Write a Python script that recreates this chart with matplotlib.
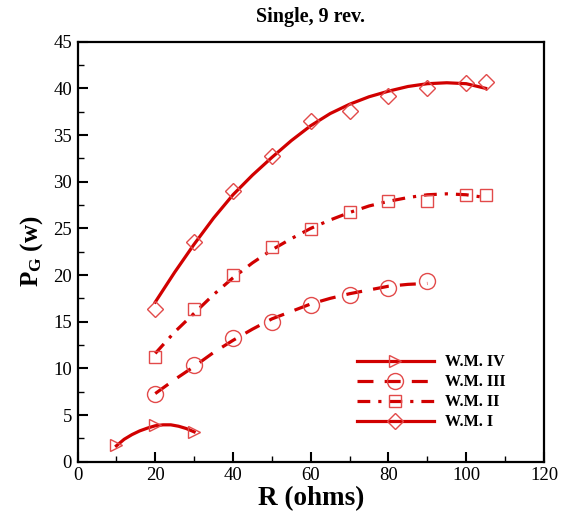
import matplotlib
matplotlib.use('Agg')
import matplotlib.pyplot as plt
from matplotlib.lines import Line2D
from matplotlib.ticker import MultipleLocator

plt.rcParams['font.family'] = 'Liberation Serif'
plt.rcParams['mathtext.fontset'] = 'custom'
plt.rcParams['mathtext.rm'] = 'Liberation Serif'
plt.rcParams['mathtext.bf'] = 'Liberation Serif:bold'

# measured points
r_1 = [20, 30, 40, 50, 60, 70, 80, 90, 100, 105]
pg_1 = [16.4, 23.5, 29.0, 32.8, 36.5, 37.6, 39.2, 40.0, 40.6, 40.7]
r_2 = [20, 30, 40, 50, 60, 70, 80, 90, 100, 105]
pg_2 = [11.2, 16.4, 20.0, 23.0, 24.9, 26.7, 27.9, 27.9, 28.6, 28.6]
r_3 = [20, 30, 40, 50, 60, 70, 80, 90]
pg_3 = [7.2, 10.4, 13.2, 15.0, 16.8, 17.9, 18.6, 19.4]
r_4 = [10, 20, 30]
pg_4 = [1.8, 3.9, 3.2]

# trend curves
fit_r_1 = [20, 25, 30, 35, 40, 45, 50, 55, 60, 65, 70, 75, 80, 85, 90, 95, 100, 105]
fit_pg_1 = [17.1, 20.3, 23.3, 26.1, 28.6, 30.7, 32.6, 34.4, 36.0, 37.3, 38.3, 39.1,
            39.7, 40.2, 40.5, 40.6, 40.5, 40.0]
fit_r_2 = [20, 25, 30, 35, 40, 45, 50, 55, 60, 65, 70, 75, 80, 85, 90, 95, 100, 105]
fit_pg_2 = [11.6, 13.9, 15.9, 17.9, 19.7, 21.3, 22.7, 23.9, 25.0, 25.9, 26.7, 27.4,
            27.9, 28.3, 28.6, 28.7, 28.6, 28.3]
fit_r_3 = [20, 25, 30, 35, 40, 45, 50, 55, 60, 65, 70, 75, 80, 85, 90]
fit_pg_3 = [7.3, 8.8, 10.2, 11.7, 13.0, 14.2, 15.3, 16.1, 16.9, 17.5, 18.0, 18.4,
            18.8, 19.0, 19.1]
fit_r_4 = [10, 12, 14, 16, 18, 20, 22, 24, 26, 28, 30]
fit_pg_4 = [1.7, 2.4, 2.9, 3.3, 3.6, 3.85, 3.95, 3.95, 3.8, 3.55, 3.2]

labels = ['W.M. IV', 'W.M. III', 'W.M. II', 'W.M. I']

line_c = '#d10000'
mark_c = '#e24a4a'
lw = 2.3

fig = plt.figure(figsize=(5.67, 5.18), dpi=100)
ax = fig.add_axes([0.1367, 0.1087, 0.8227, 0.8108])

styles = [
    (fit_r_4, fit_pg_4, r_4, pg_4, '-', '>', 9),
    (fit_r_3, fit_pg_3, r_3, pg_3, (0, (5, 3.5)), 'o', 11.5),
    (fit_r_2, fit_pg_2, r_2, pg_2, (0, (4, 2.5, 1, 2.5)), 's', 8.5),
    (fit_r_1, fit_pg_1, r_1, pg_1, '-', 'D', 7.8),
]

handles = []
for (fx, fy, mx, my, ls, mk, ms), lab in zip(styles, labels):
    ax.plot(fx, fy, color=line_c, lw=lw, ls=ls, zorder=3)
    ax.plot(mx, my, ls='none', marker=mk, ms=ms, mfc='none', mec=mark_c, mew=1.0, zorder=4)
    handles.append(Line2D([], [], color=line_c, lw=lw, ls=ls, marker=mk, ms=ms,
                          mfc='none', mec=mark_c, mew=1.0))

ax.set_xlim(0, 120)
ax.set_ylim(0, 45)
ax.xaxis.set_major_locator(MultipleLocator(20))
ax.xaxis.set_minor_locator(MultipleLocator(10))
ax.yaxis.set_major_locator(MultipleLocator(5))
ax.yaxis.set_minor_locator(MultipleLocator(2.5))
ax.tick_params(which='both', direction='in', top=False, right=False, labelsize=13.5, pad=4)
ax.tick_params(which='major', length=7, width=1.5)
ax.tick_params(which='minor', length=4, width=1)
for s in ax.spines.values():
    s.set_linewidth(1.6)

ax.set_xlabel('R (ohms)', fontsize=19.5, fontweight='bold', labelpad=1)
ax.set_ylabel(r'$\mathbf{P_G}$ (w)', fontsize=18, fontweight='bold', labelpad=6)
ax.set_title('Single, 9 rev.', fontsize=14.5, fontweight='bold', pad=14)

leg = ax.legend(handles, labels, loc='upper left', bbox_to_anchor=(0.568, 0.29),
                frameon=False, numpoints=1, handlelength=4.8, handletextpad=0.75,
                labelspacing=0.25, prop={'weight': 'bold', 'size': 11.5})

fig.savefig('out.png', dpi=100)
